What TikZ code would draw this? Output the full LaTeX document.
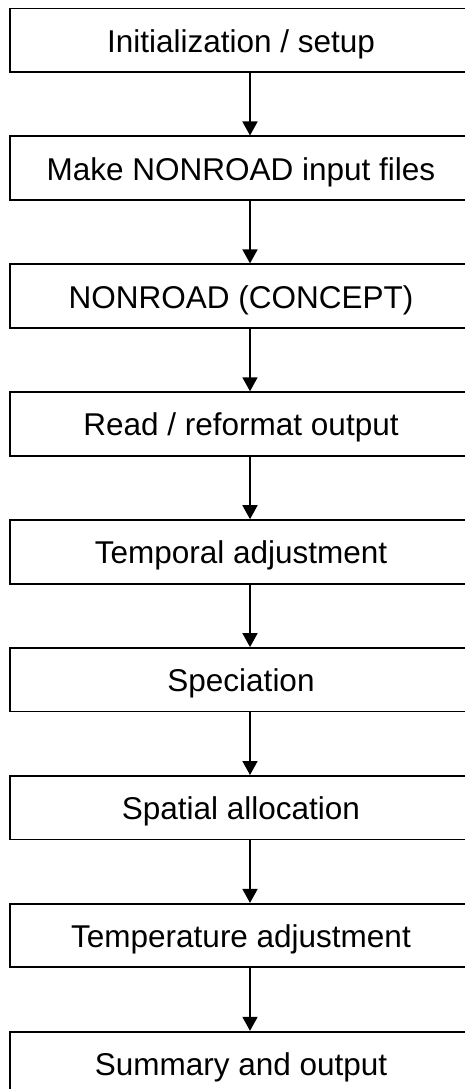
\documentclass[tikz,border=0pt]{standalone}
\usepackage{fontspec}
\setmainfont{Liberation Sans}
\usetikzlibrary{arrows.meta}
\begin{document}
\begin{tikzpicture}[x=1pt,y=-1pt,
  stepbox/.style={draw=black,line width=1.8pt,minimum width=462pt,minimum height=63.5pt,
    inner sep=0pt,font=\fontsize{31.5pt}{37pt}\selectfont,text height=27pt,text depth=3pt},
  arr/.style={line width=1.8pt,-{Triangle[width=15pt,length=14pt]}}]
\useasboundingbox (0,0) rectangle (465,1089);
\fill[white] (0,0) rectangle (465,1089);
\clip (0,0) rectangle (465,1089);
\node[stepbox] (b1) at (241,40.25) {Initialization / setup};
\node[stepbox] (b2) at (241,168.15) {Make NONROAD input files};
\node[stepbox] (b3) at (241,296.05) {NONROAD (CONCEPT)};
\node[stepbox] (b4) at (241,423.95) {Read / reformat output};
\node[stepbox] (b5) at (241,551.85) {Temporal adjustment};
\node[stepbox] (b6) at (241,679.75) {Speciation};
\node[stepbox] (b7) at (241,807.65) {Spatial allocation};
\node[stepbox] (b8) at (241,935.55) {Temperature adjustment};
\node[stepbox] (b9) at (241,1063.45) {Summary and output};
\coordinate (ax) at (250,0);
\foreach \a/\b in {b1/b2,b2/b3,b3/b4,b4/b5,b5/b6,b6/b7,b7/b8,b8/b9}
  \draw[arr] (\a.south -| ax) -- (\b.north -| ax);
\end{tikzpicture}
\end{document}
